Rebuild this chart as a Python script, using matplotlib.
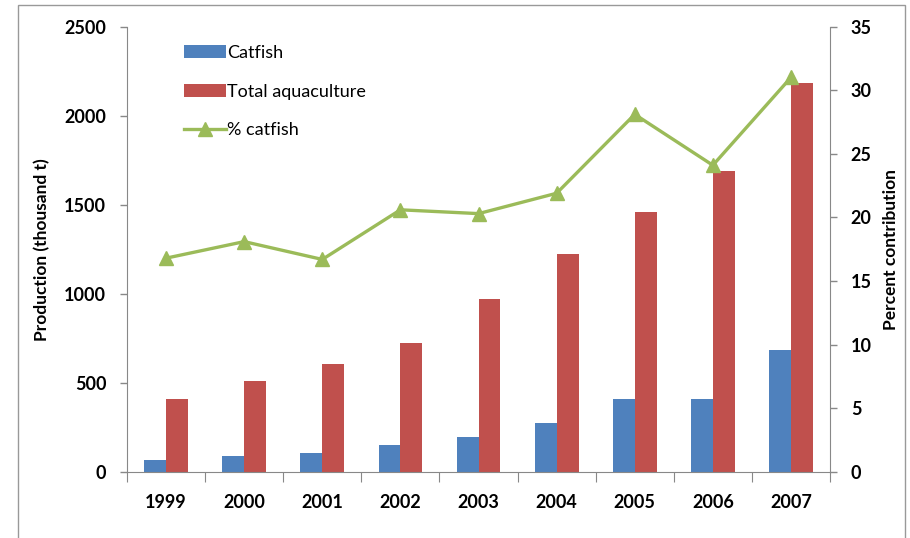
import numpy as np
import matplotlib.pyplot as plt
from matplotlib.patches import Rectangle

plt.rcParams['font.family'] = ['Lato', 'DejaVu Sans']

years = ['1999', '2000', '2001', '2002', '2003', '2004', '2005', '2006', '2007']
catfish = [68, 90, 105, 153, 195, 273, 411, 411, 683]
total_aquaculture = [408, 512, 604, 722, 969, 1225, 1461, 1689, 2185]
pct_catfish = [16.8, 18.1, 16.7, 20.6, 20.3, 21.9, 28.1, 24.1, 31.0]

BLUE = '#4F81BD'
RED = '#C0504D'
GREEN = '#9BBB59'
AXIS = '#888888'
FS = 13

fig = plt.figure(figsize=(9.1, 5.38), dpi=100)
ax = fig.add_axes([0.1396, 0.1227, 0.7725, 0.828])
ax2 = ax.twinx()

x = np.arange(len(years))
w = 0.28
ax.bar(x - w / 2, catfish, w, color=BLUE, label='Catfish', zorder=2)
ax.bar(x + w / 2, total_aquaculture, w, color=RED, label='Total aquaculture', zorder=2)
ln, = ax2.plot(x, pct_catfish, color=GREEN, lw=2.4, marker='^', ms=10,
               label='% catfish')

ax.set_xlim(-0.5, len(years) - 0.5)
ax.set_ylim(0, 2500)
ax2.set_ylim(0, 35)
ax.set_yticks(range(0, 2501, 500))
ax2.set_yticks(range(0, 36, 5))

# category labels sit between the boundary tick marks
ax.set_xticks(np.arange(-0.5, len(years), 1.0))
ax.set_xticklabels([])
ax.set_xticks(x, minor=True)
ax.set_xticklabels(years, minor=True, fontsize=FS, fontweight='bold')
ax.tick_params(axis='x', which='minor', length=0, pad=16)
ax.tick_params(axis='x', which='major', length=7, color=AXIS, direction='out')

for a in (ax, ax2):
    for s in a.spines.values():
        s.set_visible(False)
    a.tick_params(axis='y', labelsize=FS, width=1, color=AXIS, length=5, pad=10)
    for lab in a.get_yticklabels():
        lab.set_fontweight('bold')

ax.spines['left'].set_visible(True)
ax.spines['bottom'].set_visible(True)
ax2.spines['right'].set_visible(True)
for s in (ax.spines['left'], ax.spines['bottom'], ax2.spines['right']):
    s.set_color(AXIS)

ax.set_ylabel('Production (thousand t)', fontsize=12.5, fontweight='bold', labelpad=10)
ax2.set_ylabel('Percent contribution', fontsize=12.5, fontweight='bold', labelpad=8)

handles, labels = ax.get_legend_handles_labels()
handles.append(ln)
labels.append('% catfish')
ax.legend(handles, labels, loc='upper left', bbox_to_anchor=(0.058, 0.995),
          frameon=False, fontsize=13, handlelength=2.3, handleheight=0.7,
          handletextpad=0.1, labelspacing=1.25)

# chart border
fig.add_artist(Rectangle((18 / 910, -0.02), (905 - 18) / 910, 533 / 538 + 0.02,
                         transform=fig.transFigure, fill=False, ec='#999999', lw=1))

fig.savefig('out.png', dpi=100)
